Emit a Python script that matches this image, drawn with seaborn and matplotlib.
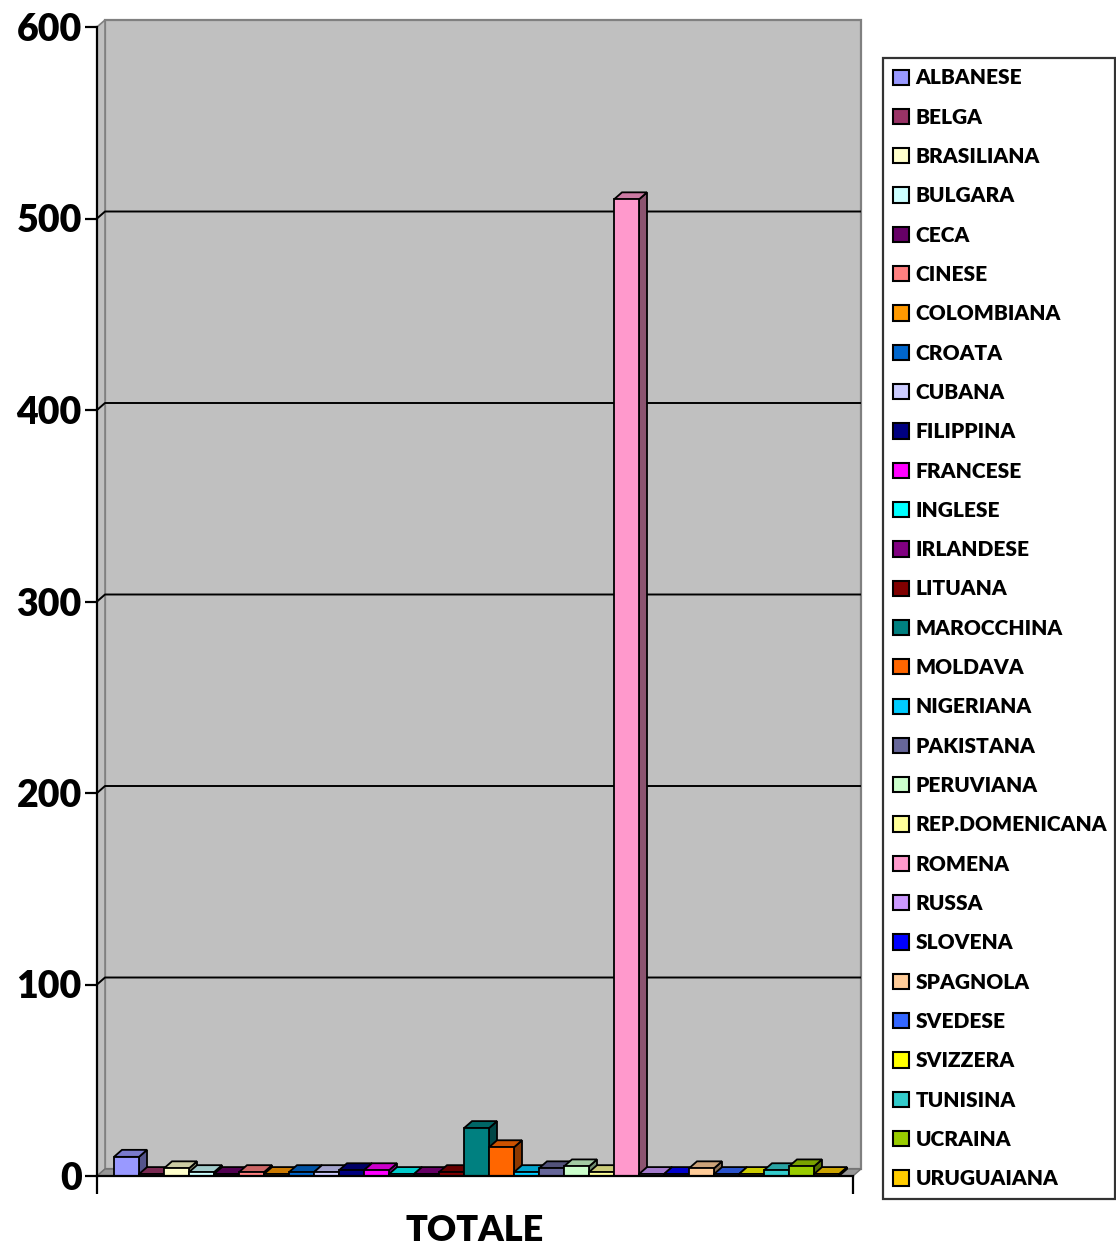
import matplotlib
matplotlib.use("Agg")
import matplotlib.pyplot as plt
from matplotlib.patches import Polygon, Patch
from matplotlib.colors import to_rgb
import numpy as np
import pandas as pd
import seaborn as sns

# Totale per nazionalità
categories = [
    "ALBANESE", "BELGA", "BRASILIANA", "BULGARA", "CECA", "CINESE",
    "COLOMBIANA", "CROATA", "CUBANA", "FILIPPINA", "FRANCESE", "INGLESE",
    "IRLANDESE", "LITUANA", "MAROCCHINA", "MOLDAVA", "NIGERIANA",
    "PAKISTANA", "PERUVIANA", "REP.DOMENICANA", "ROMENA", "RUSSA",
    "SLOVENA", "SPAGNOLA", "SVEDESE", "SVIZZERA", "TUNISINA", "UCRAINA",
    "URUGUAIANA",
]
values = [
    10, 1, 4, 2, 1, 2,
    1, 2, 2, 3, 3, 1,
    1, 2, 25, 15, 2,
    4, 5, 2, 510, 1,
    1, 4, 1, 1, 3, 5,
    1,
]
colors = [
    "#9999FF", "#993366", "#FFFFCC", "#CCFFFF", "#660066", "#FF8080",
    "#FF9900", "#0066CC", "#CCCCFF", "#000080", "#FF00FF", "#00FFFF",
    "#800080", "#800000", "#008080", "#FF6600", "#00CCFF",
    "#666699", "#CCFFCC", "#FFFF99", "#FF99CC", "#CC99FF",
    "#0000FF", "#FFCC99", "#3366FF", "#FFFF00", "#33CCCC", "#99CC00",
    "#FFCC00",
]
y_ticks = [0, 100, 200, 300, 400, 500, 600]
x_title = "TOTALE"

sns.set_theme(style="white")
plt.rcParams["font.family"] = ["Lato", "DejaVu Sans"]
WEIGHT = 800

W, H = 1116, 1248
fig = plt.figure(figsize=(W / 100, H / 100), dpi=100)
ax_left, ax_right, ax_bottom, ax_top = 97, 853, 1176, 27
ax = fig.add_axes([ax_left / W, 1 - ax_bottom / H,
                   (ax_right - ax_left) / W, (ax_bottom - ax_top) / H])

df = pd.DataFrame({"paese": categories, "totale": values})
sns.barplot(data=df, x="paese", y="totale", hue="paese", palette=colors,
            width=1.0, dodge=False, legend=False, saturation=1,
            edgecolor="black", linewidth=1.3, ax=ax)
bars = list(ax.patches)

xl, xr = -1.18, 29.06
ymax = 600
ax.set_xlim(xl, xr)
ax.set_ylim(0, ymax)

# depth of the pseudo-3D box, in data units
ppx = (ax_right - ax_left) / (xr - xl)
ppy = (ax_bottom - ax_top) / ymax
DX = 8 / ppx
DY = 7 / ppy

wall = "#C0C0C0"
wall_edge = "#808080"
# back wall, left wall, floor
ax.add_patch(Polygon([(xl + DX, DY), (xr + DX, DY), (xr + DX, ymax + DY), (xl + DX, ymax + DY)],
                     closed=True, facecolor=wall, edgecolor=wall_edge, lw=1.6,
                     zorder=0.5, clip_on=False))
ax.add_patch(Polygon([(xl, 0), (xl + DX, DY), (xl + DX, ymax + DY), (xl, ymax)],
                     closed=True, facecolor=wall, edgecolor=wall_edge, lw=1.2,
                     zorder=0.6, clip_on=False))
ax.add_patch(Polygon([(xl, 0), (xr, 0), (xr + DX, DY), (xl + DX, DY)],
                     closed=True, facecolor="#969696", edgecolor="#707070", lw=1.0,
                     zorder=0.7, clip_on=False))

# gridlines on the back wall
for v in y_ticks[1:-1]:
    ax.plot([xl, xl + DX, xr + DX], [v, v + DY, v + DY], color="black",
            lw=1.4, zorder=1, clip_on=False, solid_capstyle="butt")


def shade(c, f):
    r, g, b = to_rgb(c)[:3]
    return (r * f, g * f, b * f)


for i, bar in enumerate(bars):
    x0 = bar.get_x()
    w = bar.get_width()
    h = bar.get_height()
    fc = bar.get_facecolor()
    z = 3 + i * 0.01
    bar.set_zorder(z + 0.005)
    bar.set_clip_on(False)
    top = Polygon([(x0, h), (x0 + w, h), (x0 + w + DX, h + DY), (x0 + DX, h + DY)],
                  closed=True, facecolor=shade(fc, 0.8), edgecolor="black",
                  lw=1.3, zorder=z, clip_on=False, joinstyle="miter")
    side = Polygon([(x0 + w, 0), (x0 + w + DX, DY), (x0 + w + DX, h + DY), (x0 + w, h)],
                   closed=True, facecolor=shade(fc, 0.55), edgecolor="black",
                   lw=1.3, zorder=z, clip_on=False, joinstyle="miter")
    ax.add_patch(side)
    ax.add_patch(top)

# axes
sns.despine(ax=ax, top=True, right=True)
for s in ("left", "bottom"):
    ax.spines[s].set_color("black")
    ax.spines[s].set_linewidth(1.6)
    ax.spines[s].set_zorder(5)
ax.grid(False)

ax.set_yticks(y_ticks)
ax.set_yticklabels([str(t) for t in y_ticks], fontsize=27, fontweight=WEIGHT, color="black")
ax.tick_params(axis="y", direction="out", length=9, width=1.6, color="black", pad=2, left=True)
ax.set_xticks([xl, xr])
ax.set_xticklabels(["", ""])
ax.tick_params(axis="x", direction="out", length=13, width=1.6, color="black", bottom=True)
ax.set_xlabel(x_title, fontsize=26, fontweight=WEIGHT, color="black", labelpad=11)
ax.set_ylabel("")
ax.patch.set_visible(False)

handles = [Patch(facecolor=c, edgecolor="black", linewidth=1.5, label=n)
           for n, c in zip(categories, colors)]
leg = fig.legend(handles=handles, loc="upper left",
                 bbox_to_anchor=(883 / W, 1 - 58 / H, 232 / W, 0.0), mode="expand",
                 frameon=True, fancybox=False, edgecolor="black",
                 prop={"weight": WEIGHT, "size": 15}, handlelength=0.75,
                 handleheight=0.75, handletextpad=0.3, labelspacing=0.975,
                 borderpad=0.5, borderaxespad=0)
leg.get_frame().set_linewidth(1.6)
for t in leg.get_texts():
    t.set_color("black")

fig.savefig("out.png", dpi=100, facecolor="white")
